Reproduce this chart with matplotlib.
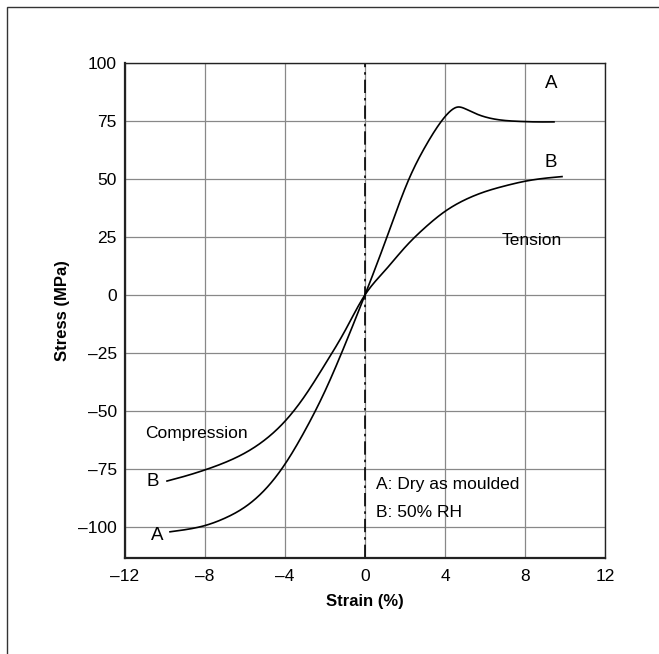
import numpy as np
import matplotlib
matplotlib.use("Agg")
import matplotlib.pyplot as plt
from matplotlib.patches import Rectangle

plt.rcParams['font.family'] = ['Liberation Sans', 'DejaVu Sans']

# ====================== data ======================
# curve A: dry as moulded
a_strain = [-9.75, -9, -8, -7, -6, -5, -4, -3, -2, -1, 0,
            1.1, 2.2, 3.05, 3.83, 4.3, 4.63, 5.0, 5.5, 6.2, 7, 7.75, 8.5, 9.45]
a_stress = [-102.2, -101.3, -99.5, -96.3, -91.5, -84, -73, -58.5, -41.5, -21.5, 0,
            25, 50, 64.5, 75, 79.5, 81.0, 80.3, 78.3, 76.3, 75.2, 74.8, 74.6, 74.6]

# curve B: 50% RH
b_strain = [-9.9, -9, -8, -7, -6, -5, -4, -3, -2, -1, 0,
            1, 2, 3, 4, 5, 6, 7, 8, 9, 9.85]
b_stress = [-80.3, -78.2, -75.5, -72.3, -68.2, -62.5, -54.5, -43.5, -30, -15.5, 0,
            10.5, 20.5, 29, 36, 41, 44.5, 47, 49, 50.3, 51]

x_ticks = [-12, -8, -4, 0, 4, 8, 12]
y_ticks = [-100, -75, -50, -25, 0, 25, 50, 75, 100]


def spline(xs, ys, n=600):
    # natural cubic spline through the read-off points
    x = np.asarray(xs, float)
    y = np.asarray(ys, float)
    m = len(x)
    h = np.diff(x)
    A = np.zeros((m, m))
    r = np.zeros(m)
    A[0, 0] = A[-1, -1] = 1
    for i in range(1, m - 1):
        A[i, i - 1] = h[i - 1]
        A[i, i] = 2 * (h[i - 1] + h[i])
        A[i, i + 1] = h[i]
        r[i] = 6 * ((y[i + 1] - y[i]) / h[i] - (y[i] - y[i - 1]) / h[i - 1])
    M = np.linalg.solve(A, r)
    t = np.linspace(x[0], x[-1], n)
    k = np.clip(np.searchsorted(x, t) - 1, 0, m - 2)
    dx1 = x[k + 1] - t
    dx0 = t - x[k]
    hk = h[k]
    out = (M[k] * dx1 ** 3 + M[k + 1] * dx0 ** 3) / (6 * hk) \
        + (y[k] / hk - M[k] * hk / 6) * dx1 + (y[k + 1] / hk - M[k + 1] * hk / 6) * dx0
    return t, out


# ====================== figure ======================
fig = plt.figure(figsize=(6.59, 6.54), dpi=100)
# outer frame
fig.patches.append(Rectangle((7 / 659, -0.1), 1.2, 1.1 - 7 / 654, transform=fig.transFigure,
                             fill=False, edgecolor="#333333", linewidth=1.0))

ax = fig.add_axes([125 / 659, 1 - 558 / 654, 480 / 659, 495 / 654])

ta, ya = spline(a_strain, a_stress)
tb, yb = spline(b_strain, b_stress)
ax.plot(ta, ya, color="black", lw=1.2, zorder=3)
ax.plot(tb, yb, color="black", lw=1.2, zorder=3)

ax.set_xlim(-12, 12)
ax.set_ylim(-113.5, 100)
ax.set_xticks(x_ticks)
ax.set_yticks(y_ticks)
ax.set_xticklabels([f"{v}".replace("-", "\u2013") for v in x_ticks])
ax.set_yticklabels([f"{v}".replace("-", "\u2013") for v in y_ticks])
ax.tick_params(length=0, labelsize=12.5, pad=8)
ax.tick_params(axis="y", pad=6)
ax.grid(color="#888888", lw=0.9)
ax.set_axisbelow(True)
ax.axvline(0, color="black", lw=1.2, ls=(0, (8, 3, 1.5, 3)), zorder=2)
for s in ax.spines.values():
    s.set_color("#222222")
    s.set_linewidth(1.0)
ax.spines["left"].set_linewidth(1.6)
ax.spines["bottom"].set_linewidth(1.6)

ax.set_xlabel("Strain (%)", fontsize=12, fontweight="bold", labelpad=7)
ax.set_ylabel("Stress (MPa)", fontsize=12, fontweight="bold", labelpad=6)

ax.text(-11, -60, "Compression", fontsize=12.5, va="center")
ax.text(6.85, 23.5, "Tension", fontsize=12.5, va="center")
ax.text(0.55, -82, "A: Dry as moulded", fontsize=12.5, va="center")
ax.text(0.55, -94, "B: 50% RH", fontsize=12.5, va="center")
ax.text(9.3, 91, "A", fontsize=13.5, ha="center", va="center")
ax.text(9.3, 57, "B", fontsize=13.5, ha="center", va="center")
ax.text(-10.6, -80.5, "B", fontsize=13.5, ha="center", va="center")
ax.text(-10.4, -104, "A", fontsize=13.5, ha="center", va="center")

fig.savefig("out.png", dpi=100)
